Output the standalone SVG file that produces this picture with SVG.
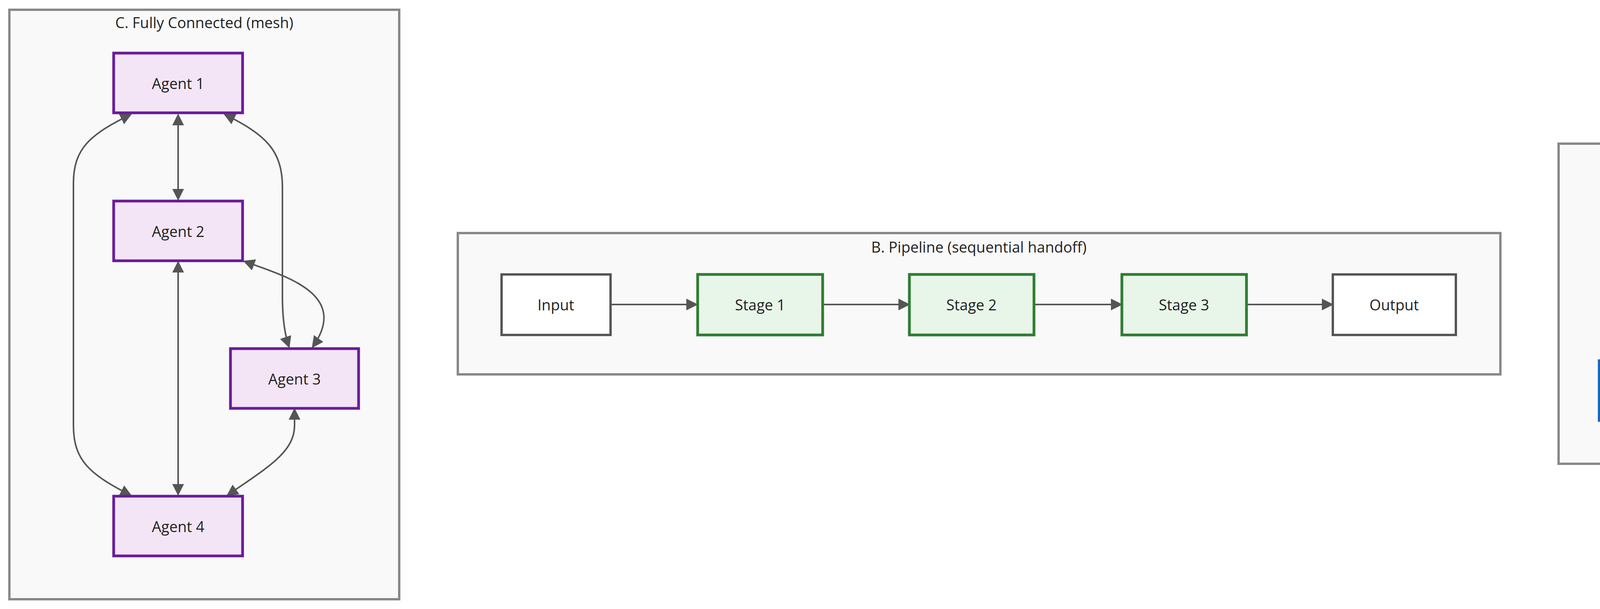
<svg xmlns="http://www.w3.org/2000/svg" width="5571" height="1560" viewBox="0 0 5571 1560">
<style>
text{font-family:"Open Sans","Noto Sans",sans-serif;font-size:38px;fill:#222;text-anchor:middle;dominant-baseline:central}
.cl{fill:#f9f9f9;stroke:#888;stroke-width:6}
.ag{fill:#f3e5f5;stroke:#6a1b9a;stroke-width:7}
.st{fill:#e8f5e9;stroke:#2e7d32;stroke-width:7}
.io{fill:#fff;stroke:#555;stroke-width:6}
.wk{fill:#e3f2fd;stroke:#1565c0;stroke-width:7}
.sv{fill:#fff3e0;stroke:#e65100;stroke-width:10}
.e{fill:none;stroke:#555;stroke-width:4}
.a{marker-end:url(#ah)}
.b{marker-end:url(#ah);marker-start:url(#as)}
</style>
<defs>
<marker id="ah" markerUnits="userSpaceOnUse" markerWidth="30" markerHeight="30" viewBox="0 0 10 10" refX="9" refY="5" orient="auto"><path d="M0,0L10,5L0,10z" fill="#555"/></marker>
<marker id="as" markerUnits="userSpaceOnUse" markerWidth="30" markerHeight="30" viewBox="0 0 10 10" refX="1" refY="5" orient="auto"><path d="M10,0L0,5L10,10z" fill="#555"/></marker>
</defs>
<g id="clusterC"><rect class="cl" x="24" y="25" width="998" height="1510"/><text x="523" y="57">C. Fully Connected (mesh)</text></g>
<g id="clusterB"><rect class="cl" x="1172" y="597" width="2669" height="362"/><text x="2506" y="632">B. Pipeline (sequential handoff)</text></g>
<g id="clusterA"><rect class="cl" x="3990" y="368" width="1556" height="820"/><text x="4767" y="407">A. Hub-and-Spoke (supervisor)</text></g>
<g id="edges">
<path class="e b" d="M456,294 L456,511"/>
<path class="e b" d="M456,671 L456,1267"/>
<path class="e b" d="M335,293 C230,345 188,380 188,470 L188,1090 C188,1180 230,1215 335,1269"/>
<path class="e b" d="M575,293 C680,345 723,385 723,480 L723,760 C723,820 730,860 740,889"/>
<path class="e b" d="M625,669 C720,705 900,750 800,889"/>
<path class="e b" d="M754,1048 L754,1090 C754,1160 680,1200 582,1269"/>
<path class="e a" d="M1563,780 L1784,780"/>
<path class="e a" d="M2107,780 L2327,780"/>
<path class="e a" d="M2647,780 L2871,780"/>
<path class="e a" d="M3191,780 L3411,780"/>
<path class="e a" d="M4560,666 C4350,790 4170,850 4217,919"/>
<path class="e a" d="M4362,920 L4620,705"/>
<path class="e a" d="M4656,702 C4588,805 4580,840 4667,919"/>
<path class="e a" d="M4858,920 C4946,805 4946,790 4884,705"/>
<path class="e a" d="M4910,702 L5170,919"/>
<path class="e a" d="M5312,920 C5334,865 5380,800 4977,666"/>
</g>
<g id="agent1"><rect class="ag" x="291" y="136" width="330" height="153"/><text x="456" y="213">Agent 1</text></g>
<g id="agent2"><rect class="ag" x="291" y="515" width="330" height="153"/><text x="456" y="592">Agent 2</text></g>
<g id="agent3"><rect class="ag" x="590" y="893" width="328" height="153"/><text x="754" y="970">Agent 3</text></g>
<g id="agent4"><rect class="ag" x="291" y="1271" width="330" height="153"/><text x="456" y="1348">Agent 4</text></g>
<g id="input"><rect class="io" x="1284" y="703" width="279" height="155"/><text x="1423" y="780">Input</text></g>
<g id="stage1"><rect class="st" x="1786" y="703" width="320" height="155"/><text x="1946" y="780">Stage 1</text></g>
<g id="stage2"><rect class="st" x="2328" y="703" width="319" height="155"/><text x="2487" y="780">Stage 2</text></g>
<g id="stage3"><rect class="st" x="2872" y="703" width="319" height="155"/><text x="3031" y="780">Stage 3</text></g>
<g id="output"><rect class="io" x="3412" y="703" width="315" height="155"/><text x="3569" y="780">Output</text></g>
<g id="supervisor"><rect class="sv" x="4565" y="484" width="405" height="214"/><text x="4767" y="561" font-weight="bold">Supervisor</text><text x="4767" y="625">orchestrates</text></g>
<g id="worker1"><rect class="wk" x="4094" y="924" width="349" height="153"/><text x="4268" y="1001">Worker 1</text></g>
<g id="worker2"><rect class="wk" x="4593" y="924" width="348" height="153"/><text x="4767" y="1001">Worker 2</text></g>
<g id="worker3"><rect class="wk" x="5092" y="924" width="347" height="153"/><text x="5265" y="1001">Worker 3</text></g>
</svg>
